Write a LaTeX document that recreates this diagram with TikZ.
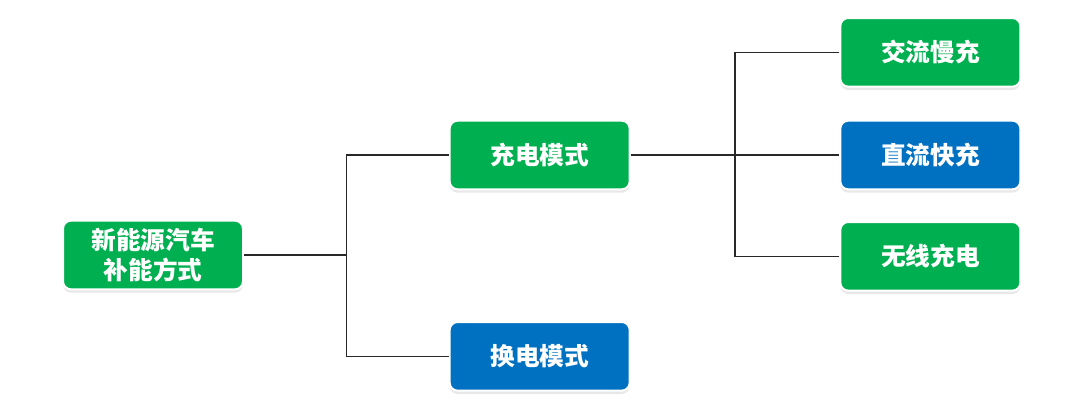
\documentclass[tikz,border=0pt]{standalone}
\usepackage{fontspec}
\newfontfamily\cjk{Noto Sans CJK SC}
\usepackage{xcolor}
\usepackage{tikz}
\usetikzlibrary{positioning, shadows, calc}
\definecolor{evgreen}{RGB}{0,176,80}
\definecolor{evblue}{RGB}{0,112,192}
\definecolor{linkgray}{RGB}{40,40,40}

\begin{document}
\begin{tikzpicture}[
    x=0.75pt, y=-0.75pt,
    box/.style={rectangle, rounded corners=6pt, minimum width=135pt, minimum height=51.5pt, align=center, draw=white, line width=1.5pt, fill=evgreen, text=white, font=\cjk\bfseries\fontsize{18.5}{22.5}\selectfont, drop shadow={shadow xshift=0pt, shadow yshift=-2.5pt, opacity=0.18}},
    bluebox/.style={box, fill=evblue},
    link/.style={draw=linkgray, line width=1.1pt}
]
\useasboundingbox (0,0) rectangle (1080,418);

% Root and first level
\node[box] (root) at (153,255) {新能源汽车\\补能方式};
\node[box, right=153.5pt of root, yshift=75pt] (charge) {充电模式};
\node[bluebox, right=153.5pt of root, yshift=-76pt] (swap) {换电模式};

% Second level
\node[bluebox, right=156.5pt of charge] (dc) {直流快充};
\node[box, above=24pt of dc] (ac) {交流慢充};
\node[box, below=23pt of dc] (wireless) {无线充电};

% Connectors
\coordinate (j1) at ($(root.east)!0.5!(charge.west |- root.east)$);
\coordinate (j2) at ($(charge.east)!0.5!(dc.west)$);
\draw[link] (root.east) -- (j1);
\draw[link] (charge.west) -| (j1) |- (swap.west);
\draw[link] (charge.east) -- (dc.west);
\draw[link] (ac.west) -| (j2) |- (wireless.west);

\end{tikzpicture}
\end{document}
